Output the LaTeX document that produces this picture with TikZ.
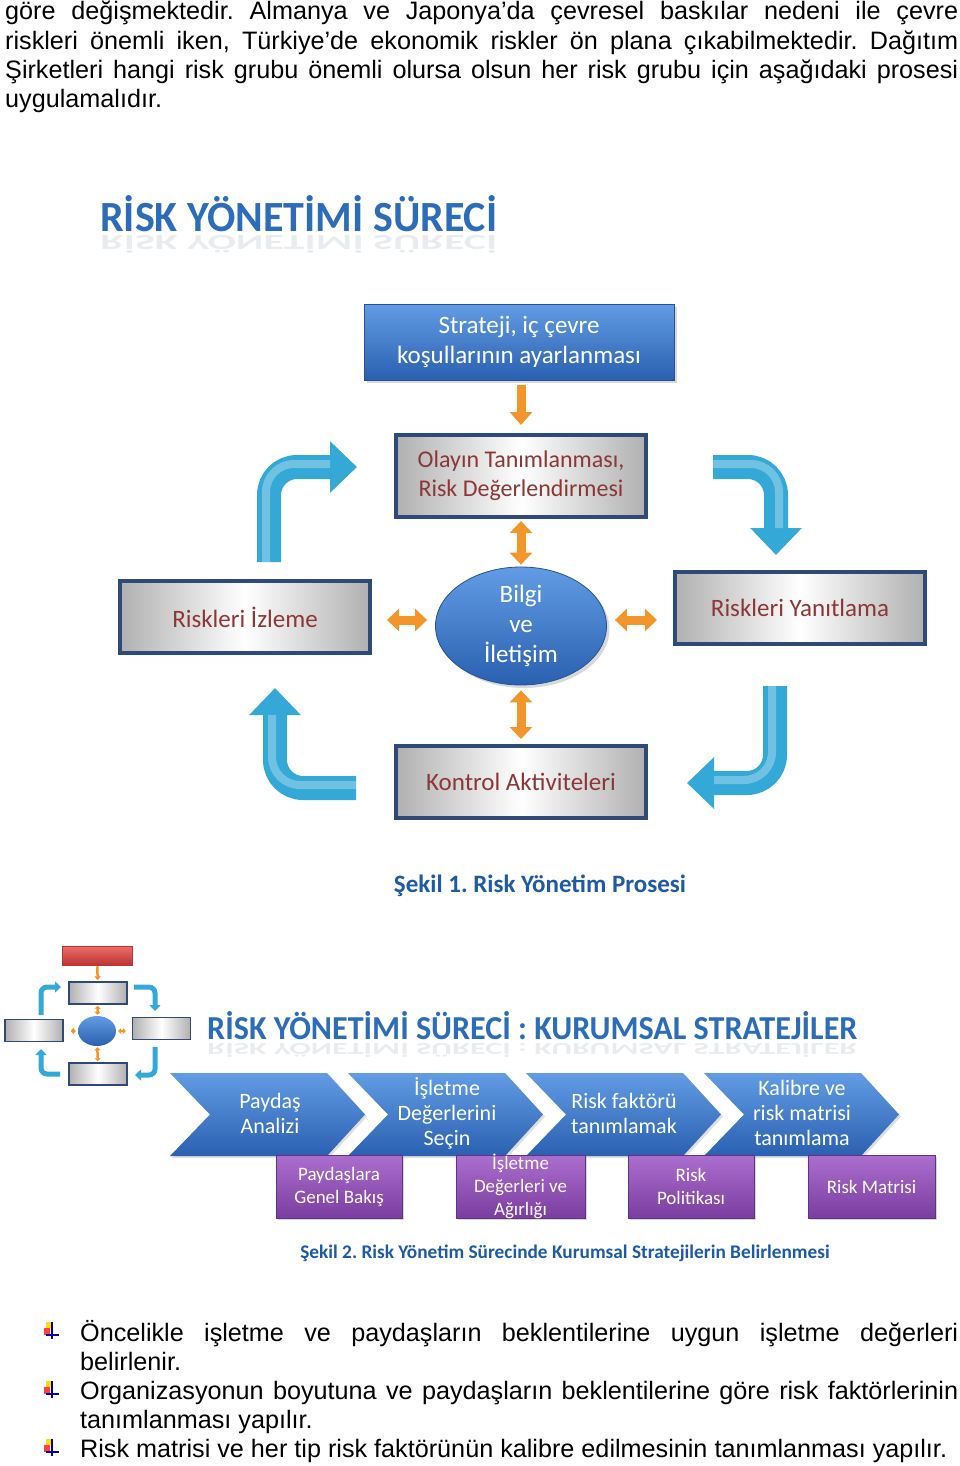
\documentclass[tikz,border=0pt]{standalone}
\usepackage{fontspec}
\setmainfont{Liberation Sans}
\newfontfamily\calibri{Carlito}
\usetikzlibrary{arrows.meta,shapes.geometric,shadows,calc,positioning}
\setlength\parskip{0pt}
\setlength\parindent{0pt}
\frenchspacing
\hyphenpenalty=10000
\hbadness=10000

\definecolor{boxblue}{RGB}{42,96,176}
\definecolor{boxbluelt}{RGB}{98,156,228}
\definecolor{rimblue}{RGB}{47,74,120}
\definecolor{redtext}{RGB}{140,55,55}
\definecolor{orarr}{RGB}{242,150,44}
\definecolor{cyarr}{RGB}{52,168,214}
\definecolor{titleblue}{RGB}{45,108,184}
\definecolor{captblue}{RGB}{30,90,165}
\definecolor{purpdk}{RGB}{122,62,160}
\definecolor{purplt}{RGB}{172,110,206}
\definecolor{reddk}{RGB}{186,52,52}
\definecolor{redlt}{RGB}{236,110,104}

\tikzset{
  bodytext/.style={inner sep=0pt, align=justify,
    font=\fontsize{25.2}{29.2}\selectfont},
  titletext/.style={inner sep=0pt, text=titleblue, font=\calibri\bfseries},
  mirror/.style={inner sep=0pt, text=gray!70!titleblue, font=\calibri\bfseries,
    opacity=.14, yscale=-.5, transform shape},
  capt/.style={inner sep=0pt, text=captblue},
  bluebox/.style={rectangle, inner sep=0pt, top color=boxbluelt, bottom color=boxblue,
    draw=boxblue!85!black, line width=.8pt, text=white, align=center,
    font=\calibri\fontsize{25}{30}\selectfont,
    drop shadow={opacity=.3, shadow xshift=3pt, shadow yshift=-3pt}},
  graybox/.style={rectangle, inner sep=0pt, draw=rimblue, line width=4pt,
    left color=gray!62, right color=gray!62, middle color=white,
    text=redtext, align=center, font=\calibri\fontsize{25}{29}\selectfont,
    minimum width=250pt, minimum height=72pt},
  circbox/.style={ellipse, inner sep=0pt, top color=boxbluelt, bottom color=boxblue,
    draw=boxblue!85!black, line width=.8pt, minimum width=171pt, minimum height=118pt,
    drop shadow={opacity=.3, shadow xshift=3pt, shadow yshift=-3pt}},
  circtext/.style={inner sep=0pt, text=white, align=center,
    font=\calibri\fontsize{25}{30}\selectfont},
  orarrow/.style={draw=orarr, line width=9pt, -{Triangle[width=22pt,length=13pt]}},
  orboth/.style={draw=orarr, line width=9pt,
    {Triangle[width=22pt,length=12pt]}-{Triangle[width=22pt,length=12pt]}},
  cyarrow/.style={draw=cyarr, line width=24pt, rounded corners=28pt,
    -{Triangle[width=50pt,length=27pt]}},
  cyshine/.style={draw=white, opacity=.3, line width=8pt, rounded corners=28pt,
    shorten >=27pt},
  thumbbox/.style={rectangle, inner sep=0pt, draw=rimblue, line width=1.5pt,
    left color=gray!62, right color=gray!62, middle color=white,
    minimum width=58pt, minimum height=22pt},
  thumbred/.style={rectangle, inner sep=0pt, top color=redlt, bottom color=reddk,
    draw=reddk, line width=.5pt},
  thumbcirc/.style={ellipse, inner sep=0pt, top color=boxbluelt, bottom color=boxblue,
    minimum width=38pt, minimum height=30pt},
  thumbor/.style={draw=orarr, line width=2.5pt, -{Triangle[width=6pt,length=4pt]}},
  thumbboth/.style={draw=orarr, line width=2.5pt,
    {Triangle[width=6pt,length=3pt]}-{Triangle[width=6pt,length=3pt]}},
  thumbcy/.style={draw=cyarr, line width=5pt, rounded corners=6pt,
    -{Triangle[width=11pt,length=6pt]}},
  chevron/.style={top color=boxbluelt, bottom color=boxblue,
    drop shadow={opacity=.25, shadow xshift=2pt, shadow yshift=-2pt}},
  chevtext/.style={inner sep=0pt, text=white, align=center,
    font=\calibri\fontsize{22}{25}\selectfont},
  purplebox/.style={rectangle, inner sep=0pt, top color=purplt, bottom color=purpdk,
    draw=purpdk!80!black, line width=.8pt, minimum height=63pt, text=white, align=center,
    font=\calibri\fontsize{19}{23}\selectfont,
    drop shadow={opacity=.3, shadow xshift=2pt, shadow yshift=-2pt}},
  purptext/.style={inner sep=0pt, text=white, align=center,
    font=\calibri\fontsize{19}{23}\selectfont}
}

\begin{document}
\begin{tikzpicture}[x=1pt,y=-1pt]
  \useasboundingbox[fill=white] (0,0) rectangle (960,1466);

  % text above the figures
  \node[bodytext, text width=953pt, anchor=base west] (intro) at (5,20)
    {göre değişmektedir. Almanya ve Japonya’da çevresel baskılar nedeni ile çevre\linebreak
     riskleri önemli iken, Türkiye’de ekonomik riskler ön plana çıkabilmektedir. Dağıtım\linebreak
     Şirketleri hangi risk grubu önemli olursa olsun her risk grubu için aşağıdaki prosesi\linebreak
     uygulamalıdır.};

  % figure 1
  \node[titletext, anchor=base west] (title1) at (100,231)
    {\resizebox{397pt}{36pt}{RİSK YÖNETİMİ SÜRECİ}};
  \node[mirror, anchor=base west] at (100,235)
    {\resizebox{397pt}{36pt}{RİSK YÖNETİMİ SÜRECİ}};

  \node[bluebox, minimum width=310pt, minimum height=76pt] (strat) at (519,342)
    {Strateji, iç çevre\\koşullarının ayarlanması};
  \node[graybox, minimum height=82pt, font=\calibri\fontsize{24}{29}\selectfont] (olay) at (521,476)
    {Olayın Tanımlanması,\\Risk Değerlendirmesi};
  \node[circbox] (bilgi) at (521,626) {};
  \node[circtext] at (bilgi) {Bilgi\\ve\\İletişim};
  \node[graybox] (izleme) at (245,617) {Riskleri İzleme};
  \node[graybox] (yanit) at (800,608) {Riskleri Yanıtlama};
  \node[graybox] (kontrol) at (521,782) {Kontrol Aktiviteleri};

  \draw[orarrow, shorten <=5pt, shorten >=8pt] (strat.south -| olay.north) -- (olay.north);
  \draw[orboth, shorten <=2pt, shorten >=2pt] (olay) -- (bilgi);
  \draw[orboth, shorten <=5pt, shorten >=5pt] (bilgi) -- (kontrol);
  \draw[orboth] ($(izleme.east |- bilgi.west)+(15,-6)$) -- ($(bilgi.west)+(-8,-6)$);
  \draw[orboth] ($(bilgi.east)+(8,-6)$) -- ($(yanit.west |- bilgi.east)+(-16,-6)$);

  \draw[cyarrow] (269,562) |- (357,467);
  \draw[cyarrow] (713,467) -| (776,555);
  \draw[cyarrow] (356,788) -| (275,688);
  \draw[cyarrow] (775,686) |- (687,783);
  \draw[cyshine] (266,562) |- (357,464);
  \draw[cyshine] (713,464) -| (779,555);
  \draw[cyshine] (356,785) -| (272,688);
  \draw[cyshine] (772,686) |- (687,780);

  \node[capt, font=\calibri\bfseries\fontsize{25}{30}\selectfont] (cap1) at (540,886)
    {Şekil 1. Risk Yönetim Prosesi};

  % figure 2: small copy of figure 1
  \node[thumbred, minimum width=70pt, minimum height=19pt] (tred) at (97,955.5) {};
  \node[thumbbox] (ttop) at (98,993) {};
  \node[thumbcirc] (tcirc) at (97,1031) {};
  \node[thumbbox] (tleft) at (34,1030.5) {};
  \node[thumbbox] (tright) at (161.5,1028.5) {};
  \node[thumbbox] (tbot) at (98,1074) {};
  \draw[thumbor, shorten <=1pt, shorten >=1pt] (tred) -- (ttop);
  \draw[thumbboth, shorten <=1pt, shorten >=1pt] (ttop) -- (tcirc);
  \draw[thumbboth, shorten <=1pt, shorten >=1pt] (tcirc) -- (tbot);
  \draw[thumbboth] ($(tleft.east |- tcirc.west)+(7,0)$) -- ($(tcirc.west)+(-2,0)$);
  \draw[thumbboth] ($(tcirc.east)+(2,0)$) -- ($(tright.west |- tcirc.east)+(-6,0)$);
  \draw[thumbcy] (41,1015) |- (61,987);
  \draw[thumbcy] (134,987) -| (155,1011);
  \draw[thumbcy] (60,1074) -| (41,1049);
  \draw[thumbcy] (155,1047) |- (135,1075);

  \node[titletext, anchor=base west] (title2) at (207,1039)
    {\resizebox{650pt}{28pt}{RİSK YÖNETİMİ SÜRECİ : KURUMSAL STRATEJİLER}};
  \node[mirror, anchor=base west] at (207,1043)
    {\resizebox{650pt}{28pt}{RİSK YÖNETİMİ SÜRECİ : KURUMSAL STRATEJİLER}};

  \foreach \cx in {170,348,526,704}
    \path[chevron] (\cx,1073) -- ++(157,0) -- ++(38,41.5) -- ++(-38,41.5)
      -- ++(-157,0) -- ++(40,-41.5) -- cycle;
  \node[chevtext] (payd) at (270,1113) {Paydaş\\Analizi};
  \node[chevtext] (isd) at (447,1113) {İşletme\\Değerlerini\\Seçin};
  \node[chevtext] (riskf) at (624,1113) {Risk faktörü\\tanımlamak};
  \node[chevtext] (kalib) at (802,1113) {Kalibre ve\\risk matrisi\\tanımlama};

  \node[purplebox, minimum width=126pt] (pgb) at (339,1186.5) {Paydaşlara\\Genel Bakış};
  \node[purplebox, minimum width=129pt] (idw) at (520.5,1186.5) {};
  \node[purptext] at (idw) {İşletme\\Değerleri ve\\Ağırlığı};
  \node[purplebox, minimum width=126pt] (rpol) at (691,1186.5) {Risk\\Politikası};
  \node[purplebox, minimum width=127pt] (rmat) at (871.5,1186.5) {Risk Matrisi};

  \node[capt, font=\calibri\bfseries\fontsize{19.3}{23}\selectfont] (cap2) at (565,1253)
    {Şekil 2. Risk Yönetim Sürecinde Kurumsal Stratejilerin Belirlenmesi};

  % bullet list
  \foreach \by in {1333,1392,1450} {
    \fill[yellow!85!orange] (46,\by-11) rectangle (52,\by-5);
    \fill[red!75] (44,\by-5) rectangle (50,\by+2);
    \draw[blue!70!black, line width=2.2pt] (52,\by-11) -- (52,\by+6);
    \draw[blue!70!black, line width=2.2pt] (46,\by+2) -- (59,\by+2);
  }
  \node[bodytext, text width=878pt, anchor=base west] (bullets) at (80,1341)
    {Öncelikle işletme ve paydaşların beklentilerine uygun işletme değerleri\linebreak
     belirlenir.\par
     Organizasyonun boyutuna ve paydaşların beklentilerine göre risk faktörlerinin\linebreak
     tanımlanması yapılır.\par
     Risk matrisi ve her tip risk faktörünün kalibre edilmesinin tanımlanması yapılır.};
\end{tikzpicture}
\end{document}
